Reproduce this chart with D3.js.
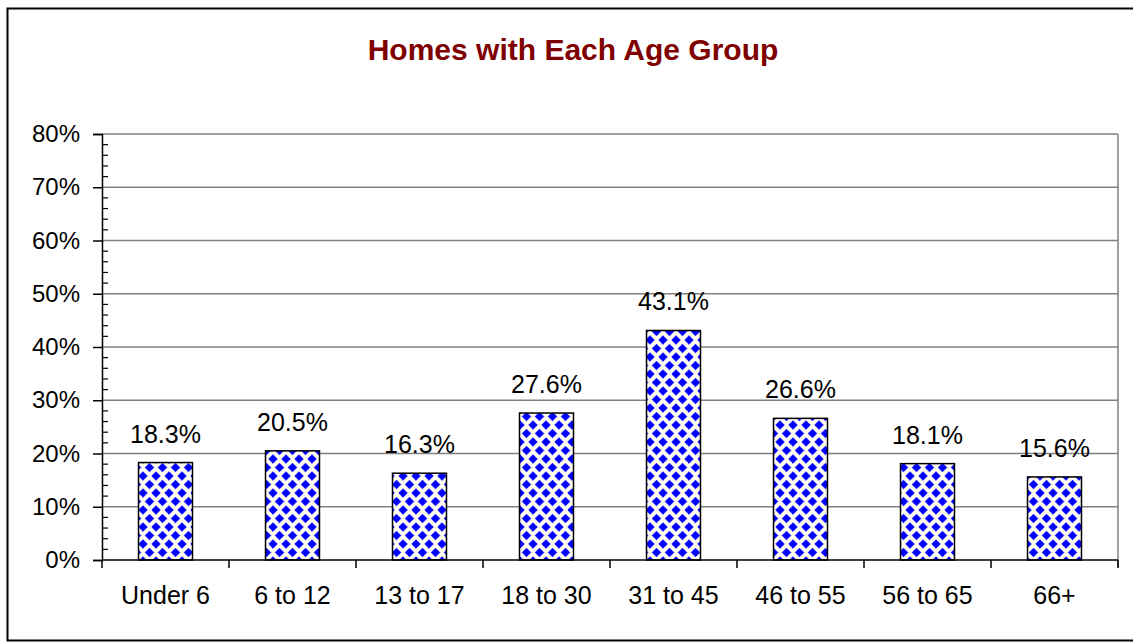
<!DOCTYPE html>
<html>
<head>
<meta charset="utf-8">
<script src="https://cdn.jsdelivr.net/npm/d3@7"></script>
<style>
  body { margin: 0; background: #fff; }
  text { font-family: "Liberation Sans", Arial, sans-serif; }
</style>
</head>
<body>
<div id="chart"></div>
<script>
// chart data
var categories = ["Under 6", "6 to 12", "13 to 17", "18 to 30", "31 to 45", "46 to 55", "56 to 65", "66+"];
var values = [18.3, 20.5, 16.3, 27.6, 43.1, 26.6, 18.1, 15.6];
var yTicks = [0, 10, 20, 30, 40, 50, 60, 70, 80];
var chartTitle = "Homes with Each Age Group";

var width = 1133;
var height = 642;
var margin = { left: 102, right: 15, top: 134, bottom: 82 };

var svg = d3.select('#chart')
  .append('svg')
  .attr('width', width)
  .attr('height', height);

// diamond fill like the excel pattern
var defs = svg.append('defs');
var pat = defs.append('pattern')
  .attr('id', 'diamonds')
  .attr('patternUnits', 'userSpaceOnUse')
  .attr('width', 13)
  .attr('height', 17)
  .attr('x', 0)
  .attr('y', 0);
pat.append('rect').attr('width', 13).attr('height', 17).attr('fill', '#fffdf0');
var dmd = function(cx, cy) {
  return 'M' + cx + ',' + (cy - 4.3) + 'L' + (cx + 4.3) + ',' + cy + 'L' + cx + ',' + (cy + 4.3) + 'L' + (cx - 4.3) + ',' + cy + 'Z';
};
[[6.5, 8.5], [0, 0], [13, 0], [0, 17], [13, 17]].forEach(function(p) {
  pat.append('path').attr('d', dmd(p[0], p[1])).attr('fill', '#0000ff')
    .attr('stroke', '#0000ff').attr('stroke-width', 0.8).attr('stroke-linejoin', 'round');
});

// outer frame
svg.append('rect')
  .attr('x', 7.5).attr('y', 8.5)
  .attr('width', width + 10).attr('height', 632)
  .attr('fill', 'none')
  .attr('stroke', '#000')
  .attr('stroke-width', 2);

svg.append('text')
  .attr('x', 573)
  .attr('y', 60)
  .attr('text-anchor', 'middle')
  .attr('font-size', 30)
  .attr('font-weight', 'bold')
  .attr('fill', '#800000')
  .text(chartTitle);

var x = d3.scaleBand()
  .domain(categories)
  .range([margin.left, width - margin.right])
  .paddingInner(0.575)
  .paddingOuter(0.2875);

var xEdge = d3.scaleLinear()
  .domain([0, categories.length])
  .range([margin.left, width - margin.right]);

var y = d3.scaleLinear()
  .domain([0, 80])
  .range([height - margin.bottom, margin.top]);

// gridlines
svg.append('g')
  .selectAll('line')
  .data(yTicks.slice(1))
  .enter().append('line')
    .attr('x1', margin.left)
    .attr('x2', width - margin.right)
    .attr('y1', function(d) { return y(d); })
    .attr('y2', function(d) { return y(d); })
    .attr('stroke', '#808080')
    .attr('stroke-width', 1.5);

// plot area right edge
svg.append('line')
  .attr('x1', width - margin.right).attr('x2', width - margin.right)
  .attr('y1', margin.top).attr('y2', y(0) + 7)
  .attr('stroke', '#808080')
  .attr('stroke-width', 1.5);

// bars
svg.append('g')
  .selectAll('rect')
  .data(values)
  .enter().append('rect')
    .attr('x', function(d, i) { return x(categories[i]); })
    .attr('y', function(d) { return y(d); })
    .attr('width', x.bandwidth())
    .attr('height', function(d) { return y(0) - y(d); })
    .attr('fill', 'url(#diamonds)')
    .attr('stroke', '#000')
    .attr('stroke-width', 1.5);

// value labels
svg.append('g')
  .selectAll('text')
  .data(values)
  .enter().append('text')
    .attr('x', function(d, i) { return x(categories[i]) + x.bandwidth() / 2; })
    .attr('y', function(d) { return y(d) - 20; })
    .attr('text-anchor', 'middle')
    .attr('font-size', 25)
    .attr('fill', '#000')
    .text(function(d) { return d.toFixed(1) + '%'; });

// y axis with minor ticks inside
var yAxis = d3.axisLeft(y)
  .tickValues(yTicks)
  .tickSize(9)
  .tickPadding(13)
  .tickFormat(function(d) { return d + '%'; });
var yg = svg.append('g')
  .attr('transform', 'translate(' + margin.left + ',0)')
  .call(yAxis);
yg.select('.domain').attr('stroke', '#000').attr('stroke-width', 1.5);
yg.selectAll('.tick line').attr('stroke', '#000').attr('stroke-width', 1.5);
yg.selectAll('.tick text').attr('font-size', 24).attr('font-family', '"Liberation Sans", Arial, sans-serif').attr('fill', '#000');

var minor = d3.range(0, 80, 2).filter(function(d) { return d % 10 !== 0; });
svg.append('g')
  .selectAll('line')
  .data(minor)
  .enter().append('line')
    .attr('x1', margin.left)
    .attr('x2', margin.left + 6)
    .attr('y1', function(d) { return y(d); })
    .attr('y2', function(d) { return y(d); })
    .attr('stroke', '#000')
    .attr('stroke-width', 1.2);

// x axis
svg.append('line')
  .attr('x1', margin.left).attr('x2', width - margin.right)
  .attr('y1', y(0)).attr('y2', y(0))
  .attr('stroke', '#000')
  .attr('stroke-width', 1.5);

svg.append('g')
  .selectAll('line')
  .data(d3.range(0, categories.length + 1))
  .enter().append('line')
    .attr('x1', function(d) { return xEdge(d); })
    .attr('x2', function(d) { return xEdge(d); })
    .attr('y1', y(0))
    .attr('y2', y(0) + 8)
    .attr('stroke', '#000')
    .attr('stroke-width', 1.5);

svg.append('g')
  .selectAll('text')
  .data(categories)
  .enter().append('text')
    .attr('x', function(d) { return x(d) + x.bandwidth() / 2; })
    .attr('y', 604)
    .attr('text-anchor', 'middle')
    .attr('font-size', 25)
    .attr('fill', '#000')
    .text(function(d) { return d; });
</script>
</body>
</html>
